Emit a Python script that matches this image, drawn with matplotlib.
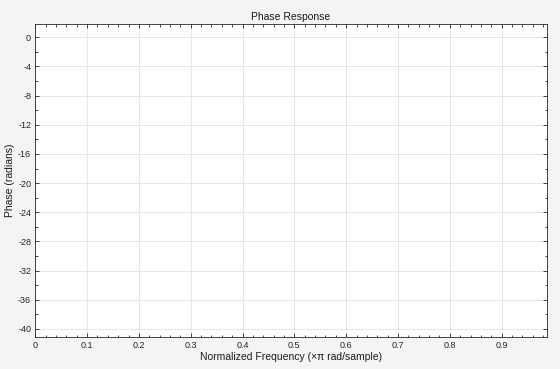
import matplotlib
matplotlib.use("Agg")
import matplotlib.pyplot as plt
from matplotlib.ticker import MultipleLocator

# Data (the reference plot shows no visible trace)
freq = []
phase = []
x_ticks = [0, 0.1, 0.2, 0.3, 0.4, 0.5, 0.6, 0.7, 0.8, 0.9]
y_ticks = [0, -4, -8, -12, -16, -20, -24, -28, -32, -36, -40]
title = "Phase Response"
xlabel = "Normalized Frequency (\u00d7\u03c0 rad/sample)"
ylabel = "Phase (radians)"

plt.rcParams['font.family'] = ['Liberation Sans', 'DejaVu Sans']

fig = plt.figure(figsize=(5.6, 3.69), dpi=100, facecolor='#f4f4f4')
ax = fig.add_axes([0.063, 0.0859, 0.9133, 0.8499])
ax.set_facecolor('white')
ax.plot(freq, phase, color='#0072bd', lw=0.8)

ax.set_xlim(0, 0.987)
ax.set_ylim(-41.14, 1.87)
ax.set_xticks(x_ticks)
ax.set_xticklabels([f"{t:g}" for t in x_ticks])
ax.set_yticks(y_ticks)
ax.set_yticklabels([f"{t:g}" for t in y_ticks])
ax.xaxis.set_minor_locator(MultipleLocator(0.02))
ax.yaxis.set_minor_locator(MultipleLocator(2))

ax.grid(True, which='major', color='#e3e3e3', lw=0.6)
ax.set_axisbelow(True)
ax.tick_params(which='both', direction='in', top=True, right=True,
               colors='#262626', labelsize=6.5, width=0.6, pad=3)
ax.tick_params(which='major', length=3)
ax.tick_params(which='minor', length=1.8)
for s in ax.spines.values():
    s.set_color('#262626')
    s.set_linewidth(0.6)

ax.set_title(title, fontsize=7.5, color='#1a1a1a', pad=3)
ax.set_xlabel(xlabel, fontsize=7.5, color='#1a1a1a', labelpad=1)
ax.set_ylabel(ylabel, fontsize=7.5, color='#1a1a1a', labelpad=2)

fig.savefig("out.png", dpi=100, facecolor=fig.get_facecolor())
